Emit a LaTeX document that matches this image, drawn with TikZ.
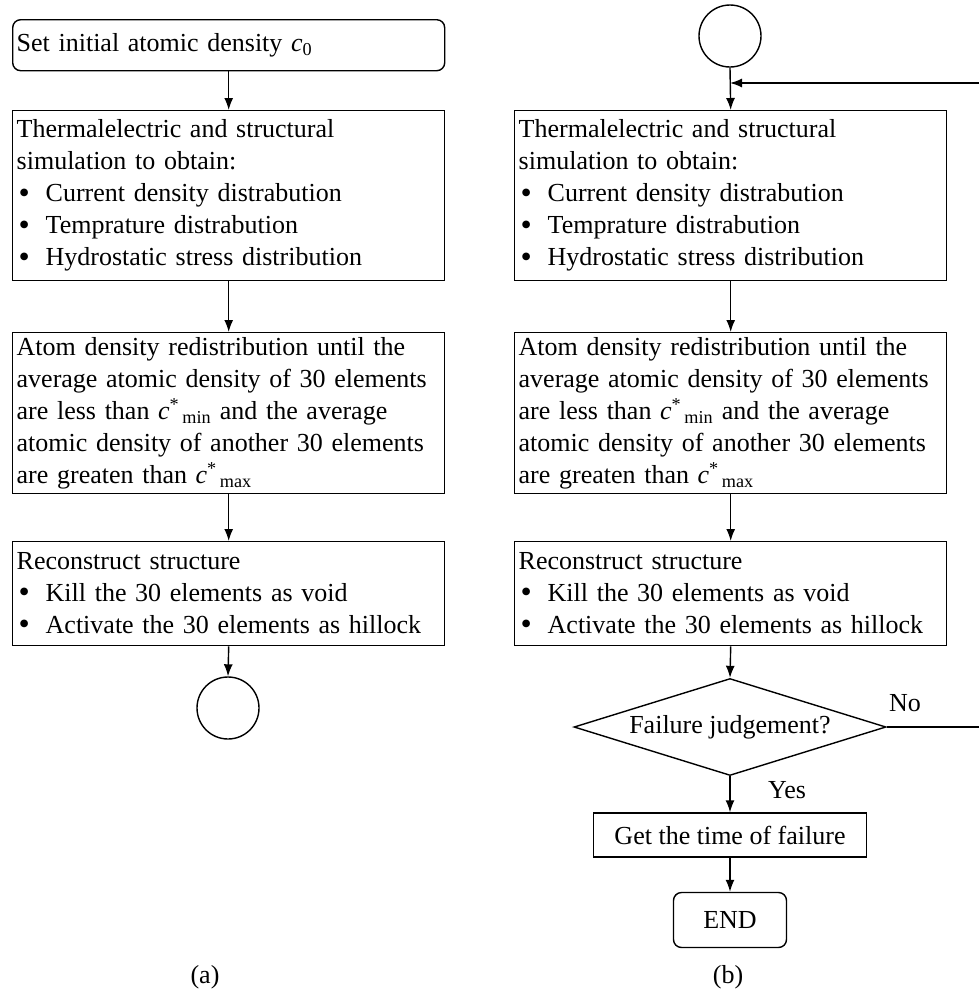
\documentclass[tikz,border=0pt]{standalone}
\usepackage{fontspec}
\setmainfont{Liberation Serif}
\usetikzlibrary{shapes.geometric,arrows.meta}
\newcommand{\mybul}{\makebox[29pt][l]{\hspace{2pt}\raisebox{-1.5pt}{\fontsize{32}{20}\selectfont\textbullet}}}
\newcommand{\cstar}[1]{\textit{c}\textsuperscript{*}\textsubscript{\,#1}}
\hyphenpenalty=10000
\exhyphenpenalty=10000
\begin{document}
\begin{tikzpicture}[x=1pt,y=-1pt,
  txt/.style={font=\fontsize{26}{32}\selectfont},
  base/.style={draw, line width=1.4pt, txt},
  boxc/.style={base, anchor=north west, text width=424pt, inner xsep=4pt, inner ysep=2pt, align=left, minimum width=432pt},
  circ/.style={draw, line width=1.4pt, circle, minimum size=62pt, inner sep=0pt},
  lbl/.style={txt, inner sep=0pt},
  arr/.style={-{Latex[length=12pt,width=9pt]}, line width=1.4pt}]
\useasboundingbox (0,0) rectangle (979,994);
% left column (a)
\node[boxc, rounded corners=8pt, minimum height=51pt] (a1) at (12,19) {Set initial atomic density \textit{c}\textsubscript{0}};
\node[boxc, minimum height=170pt] (a2) at (12,110) {Thermalelectric and structural\\ simulation to obtain:\\ \mybul Current density distrabution\\ \mybul Temprature distrabution\\ \mybul Hydrostatic stress distribution};
\node[boxc, minimum height=161pt] (a3) at (12,332) {Atom density redistribution until the\\ average atomic density of 30 elements\\ are less than \cstar{min} and the average\\ atomic density of another 30 elements\\ are greaten than \cstar{max}};
\node[boxc, minimum height=104pt] (a4) at (12,541) {Reconstruct structure\\ \mybul Kill the 30 elements as void\\ \mybul Activate the 30 elements as hillock};
\node[circ] (ac) at (228,708) {};
\node[lbl] (capa) at (205,977) {(a)};
\draw[arr] (a1.south) -- (a2.north);
\draw[arr] (a2.south) -- (a3.north);
\draw[arr] (a3.south) -- (a4.north);
\draw[arr] (a4.south) -- (ac.north);
% right column (b)
\node[circ] (bc) at (730,36) {};
\node[boxc, minimum height=170pt] (b2) at (514,110) {Thermalelectric and structural\\ simulation to obtain:\\ \mybul Current density distrabution\\ \mybul Temprature distrabution\\ \mybul Hydrostatic stress distribution};
\node[boxc, minimum height=161pt] (b3) at (514,332) {Atom density redistribution until the\\ average atomic density of 30 elements\\ are less than \cstar{min} and the average\\ atomic density of another 30 elements\\ are greaten than \cstar{max}};
\node[boxc, minimum height=104pt] (b4) at (514,541) {Reconstruct structure\\ \mybul Kill the 30 elements as void\\ \mybul Activate the 30 elements as hillock};
\node[base, diamond, aspect=3.2, minimum width=312pt, minimum height=97pt, inner sep=0pt] (dia) at (730,727) {Failure judgement?};
\node[base, minimum width=273pt, minimum height=44pt, inner sep=2pt] (fail) at (730,835) {Get the time of failure};
\node[base, rounded corners=8pt, minimum width=113pt, minimum height=55pt, inner sep=2pt] (end) at (730,920) {END};
\node[lbl] (capb) at (728,977) {(b)};
\node[lbl] (no) at (905,703) {No};
\node[lbl] (yes) at (787,790) {Yes};
\coordinate (fb) at (730,83);
\draw[arr] (bc.south) -- (b2.north);
\draw[arr] (b2.south) -- (b3.north);
\draw[arr] (b3.south) -- (b4.north);
\draw[arr] (b4.south) -- (dia.north);
\draw[arr] (dia.south) -- (fail.north);
\draw[arr] (fail.south) -- (end.north);
\draw[arr] (dia.east) -| (988,83) -- (fb);
\end{tikzpicture}
\end{document}
